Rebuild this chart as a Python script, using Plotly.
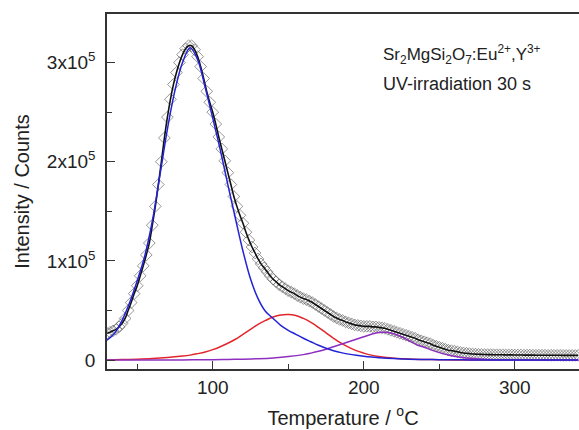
import numpy as np
import plotly.graph_objects as go

# ---- measured TL glow curve (thousands of counts), read every 2 degC ----
temp_data = [30, 32, 34, 36, 38, 40, 42, 44, 46, 48, 50, 52, 54, 56, 58, 60, 62, 64, 66, 68,
             70, 72, 74, 76, 78, 80, 82, 84, 86, 88, 90, 92, 94, 96, 98, 100, 102, 104, 106, 108,
             110, 112, 114, 116, 118, 120, 122, 124, 126, 128, 130, 132, 134, 136, 138, 140, 142, 144, 146, 148,
             150, 152, 154, 156, 158, 160, 162, 164, 166, 168, 170, 172, 174, 176, 178, 180, 182, 184, 186, 188,
             190, 192, 194, 196, 198, 200, 202, 204, 206, 208, 210, 212, 214, 216, 218, 220, 222, 224, 226, 228,
             230, 232, 234, 236, 238, 240, 242, 244, 246, 248, 250, 252, 254, 256, 258, 260, 262, 264, 266, 268,
             270, 272, 274, 276, 278, 280, 282, 284, 286, 288, 290, 292, 294, 296, 298, 300, 302, 304, 306, 308,
             310, 312, 314, 316, 318, 320, 322, 324, 326, 328, 330, 332, 334, 336, 338, 340, 342]
intensity_k = [27, 28, 29.5, 31, 33.5, 37, 42, 50, 58, 67, 75, 85, 95, 106, 118, 136, 155, 177, 200, 224,
               245, 263, 278, 290, 300, 308, 314, 317, 317, 313, 306, 296, 284, 271, 260, 250, 238, 225, 213, 201,
               189, 177, 165, 155, 146, 138, 129, 121, 114, 108, 102, 97, 93, 89, 85, 81.5, 79, 76, 74, 72,
               70, 68.5, 67, 65, 63.5, 62, 61, 59.5, 58, 56, 54, 52, 50, 48, 46, 44, 42.5, 41, 40, 38.5,
               37.5, 36.5, 35.5, 35, 34.5, 34, 34, 34, 33.5, 33.5, 33, 32.5, 32, 31, 30, 29, 28, 27, 26, 25,
               24, 23, 22, 20.5, 19.5, 18.5, 17.5, 16.5, 15, 14, 13, 12, 11, 10, 9.5, 9, 8.3, 7.7, 7.2, 6.8,
               6.5, 6.2, 6, 5.8, 5.7, 5.6, 5.5, 5.5, 5.4, 5.4, 5.3, 5.3, 5.2, 5.2, 5.2, 5.1, 5.1, 5.1, 5.0, 5.0,
               5.0, 5.0, 4.9, 4.9, 4.9, 4.9, 4.8, 4.8, 4.8, 4.8, 4.8, 4.7, 4.7, 4.7, 4.7, 4.7, 4.7]

# ---- fitted components (thousands of counts) ----
temp_blue = [30, 35, 40, 45, 50, 55, 60, 65, 70, 75, 80, 85, 90, 95, 100, 105, 110, 115, 120, 125,
             130, 135, 140, 145, 150, 155, 160, 165, 170, 175, 180, 185, 190, 195, 200, 205, 210, 215, 220, 225,
             230, 240, 250, 260, 270, 280, 290, 300, 320, 342]
peak1_k = [20, 27, 40, 58, 80, 105, 140, 186, 233, 272, 300, 315, 303, 275, 244, 212, 177, 143, 110, 82,
           62, 49, 42, 35, 30, 26, 22, 18.5, 15, 12, 9.5, 7.5, 6, 4.8, 3.8, 3, 2.4, 1.9, 1.5, 1.2,
           0.9, 0.6, 0.4, 0.3, 0.2, 0.15, 0.1, 0.1, 0.05, 0]

temp_red = [30, 40, 50, 60, 70, 80, 85, 90, 95, 100, 105, 110, 115, 120, 125, 130, 135, 140, 145, 150,
            155, 160, 165, 170, 175, 180, 185, 190, 195, 200, 205, 210, 215, 220, 230, 240, 250, 260, 280, 300, 342]
peak2_k = [0.2, 0.5, 0.9, 1.5, 2.5, 4, 5, 6.5, 8.2, 10.5, 13.5, 17, 21, 26, 31, 36, 40, 43.5, 45.5, 46,
           45, 42, 38, 33, 27.5, 22, 17, 13, 9.5, 7, 5, 3.6, 2.6, 1.9, 1.0, 0.6, 0.35, 0.2, 0.1, 0.05, 0]

temp_purple = [30, 60, 80, 100, 110, 120, 130, 140, 150, 160, 165, 170, 175, 180, 185, 190, 195, 200, 205, 210,
               215, 220, 225, 230, 235, 240, 245, 250, 255, 260, 265, 270, 280, 290, 300, 320, 342]
peak3_k = [0, 0.1, 0.2, 0.4, 0.6, 0.9, 1.4, 2.2, 3.5, 5.5, 7, 8.8, 11, 13.5, 16, 18.5, 21, 23.5, 26, 27.8,
           28, 26.5, 23.5, 19.5, 15.5, 13, 10, 7.5, 5.5, 3.8, 2.7, 1.9, 0.9, 0.4, 0.2, 0.05, 0]

y_tickvals = [0, 100000, 200000, 300000]
y_ticktext = ["0", "1x10<sup>5</sup>", "2x10<sup>5</sup>", "3x10<sup>5</sup>"]
x_tickvals = [100, 200, 300]

assert len(temp_data) == len(intensity_k)
assert len(temp_blue) == len(peak1_k)
assert len(temp_red) == len(peak2_k)
assert len(temp_purple) == len(peak3_k)

K = 1000.0
FONT = "Liberation Sans, Arial, sans-serif"

fig = go.Figure()
fig.add_trace(go.Scatter(
    x=temp_data, y=np.array(intensity_k) * K, mode="markers",
    marker=dict(symbol="diamond-open", size=9, color="rgba(80,80,80,0.6)", line=dict(width=1)),
    showlegend=False))
fig.add_trace(go.Scatter(
    x=temp_data, y=np.array(intensity_k) * K, mode="lines", line_shape="spline",
    line=dict(color="#111111", width=1.6), showlegend=False))
fig.add_trace(go.Scatter(
    x=temp_red, y=np.array(peak2_k) * K, mode="lines", line_shape="spline",
    line=dict(color="#e3262c", width=1.5), showlegend=False))
fig.add_trace(go.Scatter(
    x=temp_purple, y=np.array(peak3_k) * K, mode="lines", line_shape="spline",
    line=dict(color="#8e2fc0", width=1.5), showlegend=False))
fig.add_trace(go.Scatter(
    x=temp_blue, y=np.array(peak1_k) * K, mode="lines", line_shape="spline",
    line=dict(color="#2323d6", width=1.5), showlegend=False))

fig.update_layout(
    width=579, height=430,
    margin=dict(l=107, r=0, t=14, b=61),
    paper_bgcolor="white", plot_bgcolor="white",
    font=dict(family=FONT, color="#222222"),
    xaxis=dict(
        range=[30, 342.5], tickvals=x_tickvals, ticks="inside", ticklen=8, tickwidth=1.3,
        tickcolor="#333333", showline=True, linecolor="#333333", linewidth=1.5, mirror=True,
        showgrid=False, zeroline=False, tickfont=dict(size=19, family=FONT, color="#222222"),
        minor=dict(dtick=50, tick0=0, ticks="inside", ticklen=5, tickwidth=1.3, tickcolor="#333333"),
        title=dict(text="Temperature / <sup>o</sup>C", font=dict(size=20, family=FONT, color="#222222"),
                   standoff=14),
    ),
    yaxis=dict(
        range=[-9000, 349000], tickvals=y_tickvals, ticktext=y_ticktext, ticks="inside", ticklen=8,
        tickwidth=1.3, tickcolor="#333333", showline=True, linecolor="#333333", linewidth=1.5,
        showgrid=False, zeroline=False, tickfont=dict(size=19, family=FONT, color="#222222"),
        minor=dict(dtick=50000, tick0=0, ticks="inside", ticklen=5, tickwidth=1.3, tickcolor="#333333"),
        title=dict(text="Intensity / Counts", font=dict(size=20, family=FONT, color="#222222"),
                   standoff=12),
        ticklabelstandoff=6,
    ),
)

fig.add_annotation(
    x=0.5805, y=0.885, xref="paper", yref="paper", xanchor="left", yanchor="middle", showarrow=False,
    text="Sr<sub>2</sub>MgSi<sub>2</sub>O<sub>7</sub>:Eu<sup>2+</sup>,Y<sup>3+</sup>",
    font=dict(size=17, family=FONT, color="#222222"))
fig.add_annotation(
    x=0.5805, y=0.803, xref="paper", yref="paper", xanchor="left", yanchor="middle", showarrow=False,
    text="UV-irradiation 30 s", font=dict(size=18, family=FONT, color="#222222"))

fig.write_html("out.html")
